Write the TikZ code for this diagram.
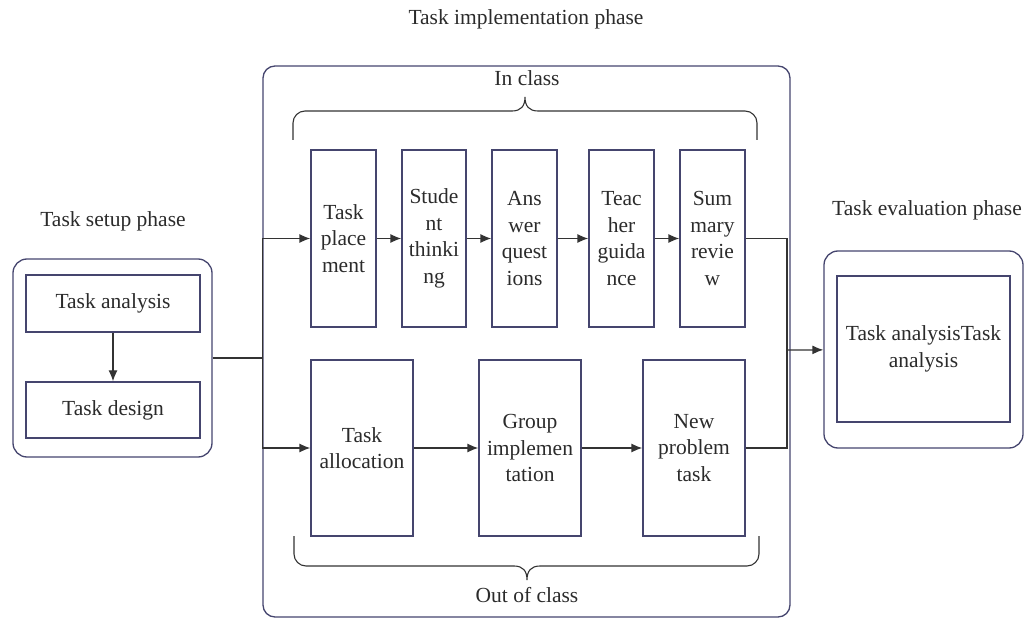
\documentclass[tikz,border=0pt]{standalone}
\usepackage{fontspec}
\setmainfont{Liberation Serif}
\usepackage{xcolor}
\usetikzlibrary{positioning,arrows.meta,calc}
\definecolor{frnavy}{HTML}{45456E}
\definecolor{lngray}{HTML}{333333}
\definecolor{txgray}{HTML}{2B2B2B}

\begin{document}
\begin{tikzpicture}[x=1pt,y=-1pt,font=\fontsize{21.5}{26.5}\selectfont,text=txgray,
  phase/.style={rectangle,rounded corners=14pt,draw=frnavy,line width=1.3pt,inner sep=0pt},
  stepbox/.style={rectangle,draw=frnavy,line width=1.3pt,align=center,inner sep=0pt,minimum width=65pt,minimum height=177pt},
  widebox/.style={rectangle,draw=frnavy,line width=1.3pt,align=center,inner sep=0pt,minimum width=102pt,minimum height=176pt},
  setbox/.style={rectangle,draw=frnavy,line width=1.3pt,align=center,inner sep=0pt,minimum width=174pt,minimum height=57pt},
  ln/.style={lngray,line width=1.3pt},
  ar/.style={-{Latex[length=11pt,width=9pt]},lngray,line width=1.3pt},
  brc/.style={lngray,line width=1.1pt}]
\useasboundingbox (0,0) rectangle (1026,620);
% phase frames
\node[phase,minimum width=199pt,minimum height=198pt] (setup) at (112.5,358) {};
\node[phase,rounded corners=12pt,minimum width=527pt,minimum height=551pt] (impl) at (526.5,341.5) {};
\node[phase,minimum width=199pt,minimum height=197pt] (evalf) at (923.5,349.5) {};
% phase titles
\node (tsetup) at (113,221) {Task setup phase};
\node (timpl) at (526,19) {Task implementation phase};
\node (teval) at (927,210) {Task evaluation phase};
\node (inclass) at (527,78) {In class};
\node (outclass) at (527,595) {Out of class};
% setup
\node[setbox] (tana) at (113,303.5) {Task analysis};
\node[setbox,minimum height=56pt] (tdes) at (113,410) {Task design};
% in class
\node[stepbox] (tpl) at (343.5,238.5) {Task\\place\\ment};
\node[stepbox,minimum width=64pt] (sth) at (434,238.5) {Stude\\nt\\thinki\\ng};
\node[stepbox] (aqu) at (524.5,238.5) {Ans\\wer\\quest\\ions};
\node[stepbox] (tgu) at (621.5,238.5) {Teac\\her\\guida\\nce};
\node[stepbox] (srv) at (712.5,238.5) {Sum\\mary\\revie\\w};
% out of class
\node[widebox] (tal) at (362,448) {Task\\allocation};
\node[widebox] (gim) at (530,448) {Group\\implemen\\tation};
\node[widebox] (npt) at (694,448) {New\\problem\\task};
% evaluation
\node[setbox,minimum width=173pt,minimum height=146pt] (tev) at (923.5,349) {Task analysisTask\\analysis};
% connectors
\coordinate (mj) at (787,350);
\draw[ar] (tana) -- (tdes);
\draw[ln] (setup.east) -- (setup.east -| impl.west);
\draw[ln] (impl.west |- tpl) -- (impl.west |- tal);
\draw[ar] (impl.west |- tpl) -- (tpl);
\draw[ar] (impl.west |- tal) -- (tal);
\draw[ar] (tpl) -- (sth);
\draw[ar] (sth) -- (aqu);
\draw[ar] (aqu) -- (tgu);
\draw[ar] (tgu) -- (srv);
\draw[ar] (tal) -- (gim);
\draw[ar] (gim) -- (npt);
\draw[ln] (srv.east) -| (mj) |- (npt.east);
\draw[ar] (mj) -- (evalf);
% braces
\draw[brc,rounded corners=12pt] (293,140) -- (293,111) -- (512,111);
\draw[brc] (512,111) .. controls (521,111) and (525,106) .. (525,97) .. controls (525,106) and (529,111) .. (538,111);
\draw[brc,rounded corners=12pt] (538,111) -- (757,111) -- (757,140);
\draw[brc,rounded corners=12pt] (294,536) -- (294,566) -- (514,566);
\draw[brc] (514,566) .. controls (523,566) and (527,571) .. (527,580) .. controls (527,571) and (531,566) .. (540,566);
\draw[brc,rounded corners=12pt] (540,566) -- (759,566) -- (759,536);
\end{tikzpicture}
\end{document}
